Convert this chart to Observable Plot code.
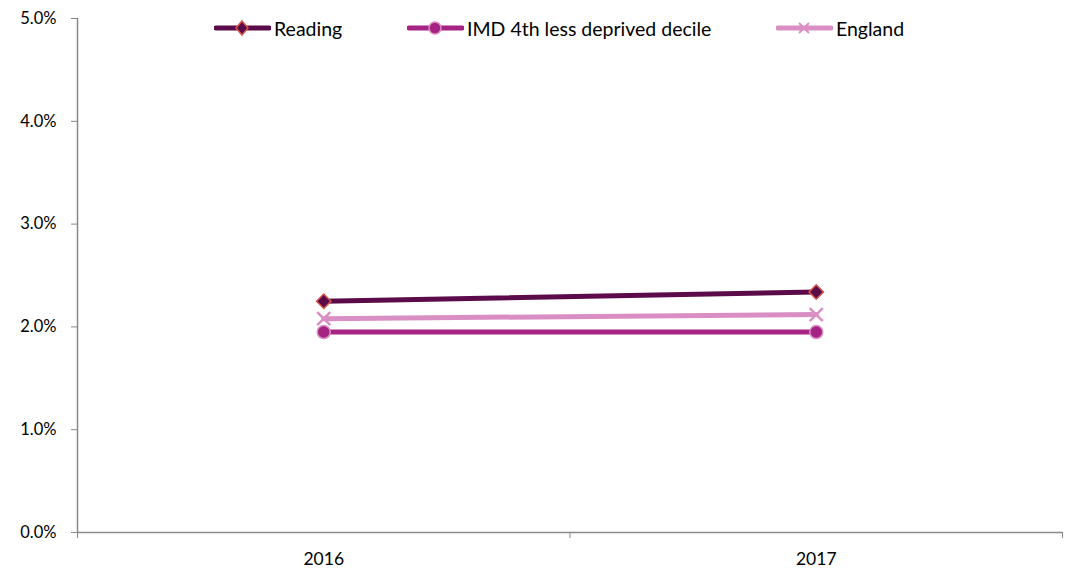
<!DOCTYPE html>
<html><head><meta charset="utf-8">
<script src="https://cdn.jsdelivr.net/npm/d3@7"></script>
<script src="https://cdn.jsdelivr.net/npm/@observablehq/plot@0.6"></script>
<style>
body{margin:0;background:#fff;font-family:Lato,"Open Sans",sans-serif;}
#wrap{position:relative;width:1068px;height:580px;}
.leg{position:absolute;top:17px;height:22px;display:flex;align-items:center;font-size:19.5px;color:#000;white-space:nowrap;}
.leg svg{display:block;margin-right:3px;}
</style></head>
<body><div id="wrap"></div>
<script>
const years = [2016, 2017];
const reading = [2.25, 2.34];
const imd = [1.95, 1.95];
const england = [2.08, 2.12];
const seriesNames = ["Reading", "IMD 4th less deprived decile", "England"];
const yTicks = [0, 1, 2, 3, 4, 5];

const colors = {Reading: "#5B0A4A", "IMD 4th less deprived decile": "#A52383", England: "#D98FC4"};
const data = [];
years.forEach((y, i) => {
  data.push({year: y, series: "Reading", v: reading[i]});
  data.push({year: y, series: "IMD 4th less deprived decile", v: imd[i]});
  data.push({year: y, series: "England", v: england[i]});
});
const bounds = [years[0] - 0.5, ...years.map(y => y + 0.5)];

const chart = Plot.plot({
  width: 1068, height: 580,
  marginLeft: 77, marginRight: 6, marginTop: 18, marginBottom: 48,
  style: {fontFamily: "Lato, 'Open Sans', sans-serif", fontSize: "17px", color: "#000"},
  x: {type: "linear", domain: [bounds[0], bounds[bounds.length - 1]]},
  y: {domain: [0, 5]},
  marks: [
    Plot.axisY({ticks: yTicks, tickSize: 6, tickPadding: 15, tickFormat: d => d.toFixed(1) + "%", stroke: "#888", label: null, fontSize: 16.5, fill: "#000"}),
    Plot.axisX({ticks: bounds, tickSize: 6, tickFormat: () => "", stroke: "#888", label: null}),
    Plot.axisX({ticks: years, tickSize: 0, tickPadding: 20, tickFormat: d => String(d), label: null, fontSize: 17.5, fill: "#000"}),
    Plot.ruleX([bounds[0]], {stroke: "#888", strokeWidth: 1.5}),
    Plot.ruleY([0], {stroke: "#888", strokeWidth: 1.5}),
    Plot.line(data.filter(d => d.series === "England"), {x: "year", y: "v", stroke: colors.England, strokeWidth: 5}),
    Plot.line(data.filter(d => d.series === "IMD 4th less deprived decile"), {x: "year", y: "v", stroke: colors["IMD 4th less deprived decile"], strokeWidth: 5}),
    Plot.line(data.filter(d => d.series === "Reading"), {x: "year", y: "v", stroke: colors.Reading, strokeWidth: 5}),
    Plot.dot(data.filter(d => d.series === "England"), {x: "year", y: "v", symbol: "times", r: 6, stroke: colors.England, strokeWidth: 2.5}),
    Plot.dot(data.filter(d => d.series === "IMD 4th less deprived decile"), {x: "year", y: "v", symbol: "circle", r: 6.5, fill: colors["IMD 4th less deprived decile"], stroke: "#D98FC4", strokeWidth: 1.5}),
    Plot.dot(data.filter(d => d.series === "Reading"), {x: "year", y: "v", symbol: "diamond2", r: 6.5, fill: colors.Reading, stroke: "#D9584A", strokeWidth: 1.5})
  ]
});
const wrap = document.getElementById("wrap");
wrap.appendChild(chart);

const legPos = [214, 407, 776];
const markers = {
  Reading: c => `<path d="M28,4 L34,11 L28,18 L22,11 Z" fill="${c}" stroke="#D9584A" stroke-width="1.5"/>`,
  "IMD 4th less deprived decile": c => `<circle cx="28" cy="11" r="6" fill="${c}" stroke="#D98FC4" stroke-width="1.5"/>`,
  England: c => `<path d="M23,6 L33,16 M33,6 L23,16" stroke="${c}" stroke-width="2"/>`
};
seriesNames.forEach((n, i) => {
  const d = document.createElement("div");
  d.className = "leg";
  d.style.left = legPos[i] + "px";
  const c = colors[n];
  d.innerHTML = `<svg width="57" height="22"><line x1="2" y1="11" x2="55" y2="11" stroke="${c}" stroke-width="5" stroke-linecap="round"/>${markers[n](c)}</svg><span>${n}</span>`;
  wrap.appendChild(d);
});
</script></body></html>
